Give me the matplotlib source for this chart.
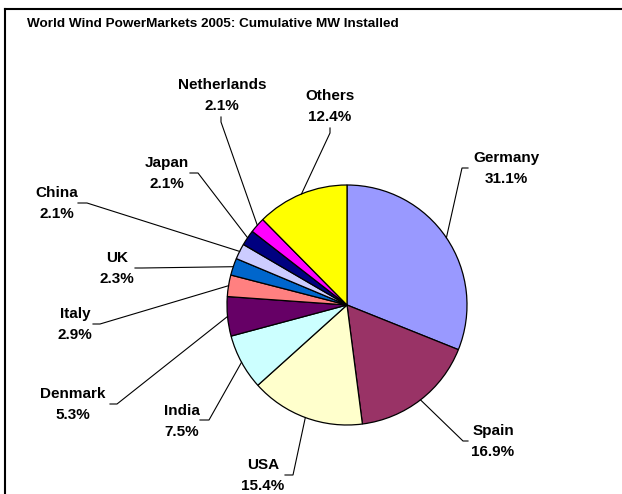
import matplotlib
matplotlib.use("Agg")
import matplotlib.pyplot as plt
import numpy as np

# ---- data ----
countries = ["Germany", "Spain", "USA", "India", "Denmark", "Italy", "UK",
             "China", "Japan", "Netherlands", "Others"]
shares = [31.1, 16.9, 15.4, 7.5, 5.3, 2.9, 2.3, 2.1, 2.1, 2.1, 12.4]
pct_labels = ["31.1%", "16.9%", "15.4%", "7.5%", "5.3%", "2.9%", "2.3%",
              "2.1%", "2.1%", "2.1%", "12.4%"]
title = "World Wind PowerMarkets 2005: Cumulative MW Installed"

# ---- styles / layout ----
colors = ["#9999FF", "#993366", "#FFFFCC", "#CCFFFF", "#660066", "#FF8080",
          "#0066CC", "#CCCCFF", "#000080", "#FF00FF", "#FFFF00"]
W, H = 622, 494
center_px = (347, 305)
radius = 120
# label block centres (pixel coords, y downward)
label_pos = [(506, 167), (493, 440), (263, 474), (182, 420), (73, 403),
             (75, 323), (117, 267), (57, 202), (167, 172), (222, 94), (330, 105)]
# leader line start and elbow (pixel coords)
leader = [((468, 168), (462, 168)), ((468, 441), (463, 441)),
          ((285, 475), (293, 475)), ((200, 420), (209, 420)),
          ((110, 404), (117, 404)), ((93, 324), (100, 324)),
          ((135, 268), (142, 268)), ((78, 203), (87, 203)),
          ((190, 173), (198, 173)), ((221, 117), (221, 122)),
          ((330, 128), (330, 133))]
LINE_GAP = 21  # px between the two label lines

def py(y):
    return H - y

plt.rcParams['font.family'] = ['Liberation Sans', 'DejaVu Sans']

fig = plt.figure(figsize=(W / 100, H / 100), dpi=100)
ax = fig.add_axes([0, 0, 1, 1])

wedges, _ = ax.pie(shares, colors=colors, startangle=90, counterclock=False,
                   center=(center_px[0], py(center_px[1])), radius=radius,
                   wedgeprops=dict(edgecolor="black", linewidth=0.9))

ax.set_xlim(0, W)
ax.set_ylim(0, H)
ax.set_aspect('equal')
ax.axis('off')

for w, name, pct, (lx, ly), (p0, p1) in zip(wedges, countries, pct_labels,
                                              label_pos, leader):
    ang = np.deg2rad((w.theta1 + w.theta2) / 2)
    ex = w.center[0] + w.r * np.cos(ang)
    ey = w.center[1] + w.r * np.sin(ang)
    ax.plot([p0[0], p1[0], ex], [py(p0[1]), py(p1[1]), ey],
            color="black", linewidth=0.8, solid_joinstyle='miter')
    ax.text(lx, py(ly - LINE_GAP / 2 + 5.5), name, ha="center",
            va="baseline", fontsize=11, fontweight="bold")
    ax.text(lx, py(ly + LINE_GAP / 2 + 5.5), pct, ha="center",
            va="baseline", fontsize=11, fontweight="bold")

ax.text(27, py(27), title, ha="left", va="baseline", fontsize=9.7,
        fontweight="bold")

# outer frame (extends beyond the image on right/bottom)
ax.plot([5, W + 5], [py(9), py(9)], color="black", linewidth=1.5,
        clip_on=False)
ax.plot([5, 5], [py(9), -5], color="black", linewidth=1.5, clip_on=False)

fig.savefig("out.png", dpi=100)
